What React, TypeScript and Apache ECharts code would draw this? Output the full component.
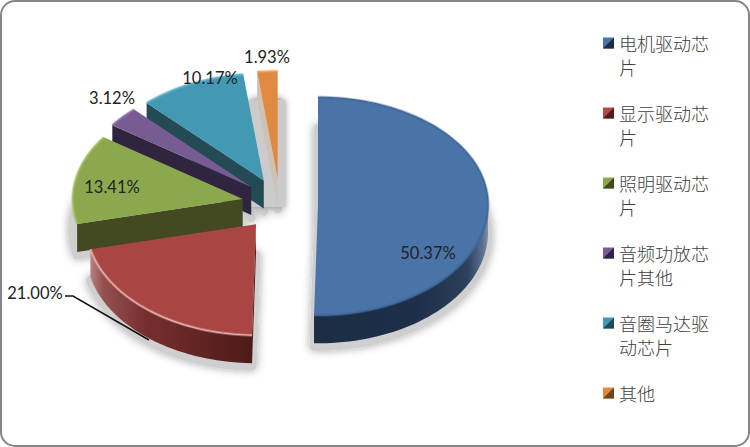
import React, { useEffect, useRef } from "react";
import * as echarts from "echarts";

const categories = ["电机驱动芯片", "显示驱动芯片", "照明驱动芯片", "音频功放芯片其他", "音圈马达驱动芯片", "其他"];
const shares = [50.37, 21.0, 13.41, 3.12, 10.17, 1.93];
const legendLines = [["电机驱动芯", "片"], ["显示驱动芯", "片"], ["照明驱动芯", "片"], ["音频功放芯", "片其他"], ["音圈马达驱", "动芯片"], ["其他"]];

const topColors = ["#4a74a8", "#a94543", "#8ca84e", "#775b93", "#4299b3", "#e08a41"];
const faceColors = ["#1c2d45", "#501c1c", "#434a22", "#30253f", "#234a55", "#cfc2b4"];
const rimColors = ["#3f6796", "#e8b0ae", "#a5c063", "#8d72a8", "#62b3cb", "#eaa56a"];
const legendLight = ["#4a74a8", "#b04c4a", "#8ca84e", "#775b93", "#4299b3", "#e08a41"];
const legendDark = ["#1c2d45", "#501c1c", "#434a22", "#30253f", "#234a55", "#70431c"];
const drawOrder = [5, 4, 3, 2, 1, 0];
const labelCenters = [[428, 253], [35, 293], [112, 187], [112, 98], [210, 78], [267, 57]];

const CX = 280, CY = 204, EX = 38, EY = 26;
const RX = 170, RY_BACK = 107, RY_FRONT = 111, DEPTH = 28;
const rad = (d: number) => (d * Math.PI) / 180;

function sliceAngles(i: number) {
  const before = shares.slice(0, i).reduce((a, b) => a + b, 0);
  const total = shares.reduce((a, b) => a + b, 0);
  return [(before / total) * 360, ((before + shares[i]) / total) * 360];
}

function renderSlice(params: any, api: any) {
  const i = params.dataIndex;
  const value = api.value(0);
  const [a0, a1] = sliceAngles(i);
  const mid = (a0 + a1) / 2;
  const ax = CX + EX * Math.sin(rad(mid));
  const ay = CY - EY * Math.cos(rad(mid));
  const pt = (deg: number, dy = 0): number[] => {
    const c = Math.cos(rad(deg));
    return [ax + RX * Math.sin(rad(deg)), ay - (c > 0 ? RY_BACK : RY_FRONT) * c + dy];
  };
  const steps = Math.max(4, Math.ceil((a1 - a0) / 2));
  const arc: number[][] = [];
  for (let k = 0; k <= steps; k++) arc.push(pt(a0 + ((a1 - a0) * k) / steps));
  const top = [[ax, ay], ...arc];
  const order = drawOrder.indexOf(i);
  const z = 10 + order * 10;
  const children: any[] = [];

  // soft shadow under the slice
  children.push({
    type: "polygon",
    z2: 1,
    shape: { points: top.map((p) => [p[0], p[1] + DEPTH + 3]) },
    style: { fill: "#cfcfcf", stroke: "#cfcfcf", lineWidth: 9, lineJoin: "round", shadowBlur: 9, shadowColor: "rgba(0,0,0,0.35)" },
  });
  if (i === 5) {
    children.push({
      type: "rect",
      z2: 1,
      shape: { x: 249, y: 100, width: 36, height: 107 },
      style: { fill: "#cbcbcb", shadowBlur: 6, shadowColor: "rgba(0,0,0,0.3)" },
    });
  }

  // start cut face
  if (Math.sin(rad(a0)) < 0) {
    const p = pt(a0);
    children.push({
      type: "polygon",
      z2: z,
      shape: { points: [[ax, ay], p, [p[0], p[1] + DEPTH], [ax, ay + DEPTH]] },
      style: { fill: faceColors[i] },
    });
  }

  // visible rim: front half only
  const f0 = Math.max(a0, 90), f1 = Math.min(a1, 270);
  if (f1 - f0 > 20) {
    const n = Math.ceil((f1 - f0) / 2);
    const upper: number[][] = [], lower: number[][] = [];
    for (let k = 0; k <= n; k++) {
      const d = f0 + ((f1 - f0) * k) / n;
      upper.push(pt(d));
      lower.push(pt(d, DEPTH));
    }
    const stops = i === 0
      ? [[0, "#1c2d45"], [0.6, "#1d2f49"], [0.88, "#2d405c"], [0.97, "#5a7190"], [1, "#7d8fa8"]]
      : [[0, "#b98080"], [0.08, "#94504f"], [0.35, "#762e2d"], [0.75, "#5c2221"], [1, "#4e1b1a"]];
    children.push({
      type: "polygon",
      z2: z + 1,
      shape: { points: [...upper, ...lower.reverse()] },
      style: {
        fill: new echarts.graphic.LinearGradient(0, 0, 1, 0, stops.map(([offset, color]) => ({ offset: offset as number, color: color as string }))),
      },
    });
  }

  children.push({ type: "polygon", z2: z + 2, shape: { points: top }, style: { fill: topColors[i] } });
  children.push({
    type: "polyline",
    z2: z + 3,
    shape: { points: arc },
    style: { fill: "none", stroke: rimColors[i], lineWidth: 3, opacity: 0.4 },
  });
  children.push({
    type: "polyline",
    z2: z + 4,
    shape: { points: arc },
    style: { fill: "none", stroke: rimColors[i], lineWidth: 1.2 },
  });

  if (i === 1) {
    children.push({
      type: "polyline",
      z2: 200,
      shape: { points: [[65, 296], [73, 296], [149, 340]] },
      style: { fill: "none", stroke: "#111", lineWidth: 1.5 },
    });
  }

  children.push({
    type: "text",
    z2: 210,
    style: {
      text: value.toFixed(2) + "%",
      x: labelCenters[i][0],
      y: labelCenters[i][1],
      align: "center",
      verticalAlign: "middle",
      textAlign: "center",
      textVerticalAlign: "middle",
      fill: "#222",
      font: '16.5px Lato, "Noto Sans", sans-serif',
    },
  });
  return { type: "group", children };
}

function legendGraphics() {
  const out: any[] = [];
  legendLines.forEach((lines, i) => {
    const y = 43 + i * 70;
    const x0 = 603, s = 11, t = y - s / 2;
    out.push({ type: "rect", shape: { x: x0, y: t, width: s, height: s }, style: { fill: legendLight[i] } });
    out.push({ type: "polygon", shape: { points: [[x0 + s, t], [x0 + s, t + s], [x0, t + s]] }, style: { fill: legendDark[i] } });
    lines.forEach((line, k) => {
      out.push({
        type: "text",
        style: {
          text: line,
          x: 619,
          y: y + k * 24,
          align: "left",
          verticalAlign: "middle",
          textAlign: "left",
          textVerticalAlign: "middle",
          fill: "#404040",
          font: '300 18px "Noto Sans CJK SC", sans-serif',
        },
      });
    });
  });
  return out;
}

export default function App() {
  const ref = useRef<HTMLDivElement>(null);
  useEffect(() => {
    document.body.style.margin = "0";
    const chart = echarts.init(ref.current!, undefined, { renderer: "svg" });
    chart.setOption({
      animation: false,
      backgroundColor: "#ffffff",
      graphic: [
        {
          type: "rect",
          z: -10,
          shape: { x: 1, y: 1, width: 748, height: 445, r: 14 },
          style: { fill: "#fff", stroke: "#868686", lineWidth: 2 },
        },
        ...legendGraphics(),
      ],
      series: [
        {
          type: "custom",
          coordinateSystem: "none",
          silent: true,
          clip: false,
          data: categories.map((name, i) => ({ name, value: [shares[i]] })),
          renderItem: renderSlice,
        },
      ],
    });
    return () => chart.dispose();
  }, []);
  return <div ref={ref} style={{ width: 750, height: 447 }} />;
}
